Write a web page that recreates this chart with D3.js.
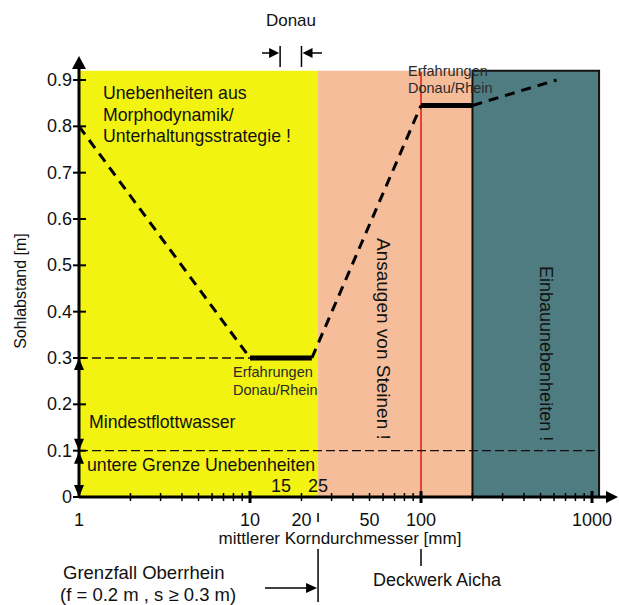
<!DOCTYPE html>
<html>
<head>
<meta charset="utf-8">
<script src="https://cdn.jsdelivr.net/npm/d3@7"></script>
<style>
  body { margin: 0; background: #fff; }
  text { font-family: "Liberation Sans", Arial, sans-serif; fill: #111; }
</style>
</head>
<body>
<svg id="chart" width="619" height="605"></svg>
<script>
// Grain-size zones (mm) with their fill colours
const zoneFrom   = [1, 25, 200];
const zoneTo     = [25, 200, 1100];
const zoneColors = ["#f3f312", "#f6bd9a", "#4f7c81"];
const zoneTop    = 0.92;

// Recommended bed clearance (m) over mean grain diameter (mm)
const dashedTrend = [
  [[1, 0.8], [10, 0.3]],
  [[23, 0.3], [100, 0.845]],
  [[200, 0.845], [620, 0.9]]
];
const experience = [
  [[10, 0.3], [23, 0.3]],
  [[100, 0.845], [200, 0.845]]
];

// Reference levels (m)
const levelMin = 0.3;   // Mindestflottwasser upper limit
const levelLow = 0.1;   // untere Grenze Unebenheiten

// Axis ticks
const yTicks = [0, 0.1, 0.2, 0.3, 0.4, 0.5, 0.6, 0.7, 0.8, 0.9];
const xLabels = [1, 10, 20, 50, 100, 1000];
const xMajor = [10, 100, 1000];
const xMinor = [2,3,4,5,6,7,8,9,20,30,40,50,60,70,80,90,200,300,400,500,600,700,800,900];

// Marked grain sizes
const donauRange = [15, 20];
const grenzfall = 25;
const deckwerk = 100;

const svg = d3.select("#chart");
const x = d3.scaleLog().domain([1, 1000]).range([79, 592]);
const y = d3.scaleLinear().domain([0, 0.9]).range([497, 80]);

// Zones
svg.selectAll("rect.zone").data(zoneFrom).join("rect")
  .attr("class", "zone")
  .attr("x", (d) => x(d))
  .attr("y", y(zoneTop))
  .attr("width", (d, i) => x(zoneTo[i]) - x(d))
  .attr("height", y(0) - y(zoneTop))
  .attr("fill", (d, i) => zoneColors[i]);

// Border of the installation-roughness zone
svg.append("path")
  .attr("d", `M${x(zoneFrom[2])},${y(0)}V${y(zoneTop)}H${x(zoneTo[2])}V${y(0)}`)
  .attr("fill", "none").attr("stroke", "#111").attr("stroke-width", 2);

// Deckwerk Aicha marker line
svg.append("line")
  .attr("x1", x(deckwerk)).attr("x2", x(deckwerk))
  .attr("y1", y(zoneTop) + 1).attr("y2", y(0))
  .attr("stroke", "#e2231a").attr("stroke-width", 1.6);

// Reference level dashed lines
svg.append("line")
  .attr("x1", x(1)).attr("x2", x(10))
  .attr("y1", y(levelMin)).attr("y2", y(levelMin))
  .attr("stroke", "#111").attr("stroke-width", 1.4).attr("stroke-dasharray", "9,4");
svg.append("line")
  .attr("x1", x(1)).attr("x2", x(zoneTo[2]))
  .attr("y1", y(levelLow)).attr("y2", y(levelLow))
  .attr("stroke", "#111").attr("stroke-width", 1.4).attr("stroke-dasharray", "9,4");

const line = d3.line().x((d) => x(d[0])).y((d) => y(d[1]));

svg.selectAll("path.trend").data(dashedTrend).join("path")
  .attr("class", "trend")
  .attr("d", line)
  .attr("fill", "none").attr("stroke", "#000")
  .attr("stroke-width", 3).attr("stroke-dasharray", "10,7");

svg.selectAll("path.exp").data(experience).join("path")
  .attr("class", "exp")
  .attr("d", line)
  .attr("fill", "none").attr("stroke", "#000").attr("stroke-width", 5);

// Arrow head helper: tip at (tx,ty), pointing in direction dir
function head(g, tx, ty, dir, len, half) {
  let pts;
  if (dir === "up")    pts = [[tx, ty], [tx - half, ty + len], [tx + half, ty + len]];
  if (dir === "down")  pts = [[tx, ty], [tx - half, ty - len], [tx + half, ty - len]];
  if (dir === "right") pts = [[tx, ty], [tx - len, ty - half], [tx - len, ty + half]];
  if (dir === "left")  pts = [[tx, ty], [tx + len, ty - half], [tx + len, ty + half]];
  g.append("polygon").attr("points", pts.map((p) => p.join(",")).join(" ")).attr("fill", "#000");
}

// Axes
const ax = svg.append("g");
ax.append("line").attr("x1", x(1)).attr("x2", 608).attr("y1", y(0)).attr("y2", y(0))
  .attr("stroke", "#000").attr("stroke-width", 3);
head(ax, 618, y(0), "right", 12, 6);
ax.append("line").attr("x1", x(1)).attr("x2", x(1)).attr("y1", y(0)).attr("y2", 66)
  .attr("stroke", "#000").attr("stroke-width", 3);
head(ax, x(1), 56, "up", 13, 7);

// Range arrows on the y axis
head(ax, x(1), y(levelMin), "up", 12, 5);
head(ax, x(1), y(levelLow), "down", 12, 5);
head(ax, x(1), y(levelLow) + 1, "up", 12, 5);
head(ax, x(1), y(0), "down", 12, 5);

// y ticks and labels
ax.selectAll("line.yt").data(yTicks).join("line")
  .attr("class", "yt")
  .attr("x1", x(1) - 6).attr("x2", x(1) + 7)
  .attr("y1", (d) => y(d)).attr("y2", (d) => y(d))
  .attr("stroke", "#000").attr("stroke-width", 2);
ax.selectAll("text.yl").data(yTicks).join("text")
  .attr("class", "yl")
  .attr("x", x(1) - 7).attr("y", (d) => y(d) + 6)
  .attr("text-anchor", "end").attr("font-size", 18)
  .text((d) => d === 0 ? "0" : d3.format(".1f")(d));

// x ticks
ax.selectAll("line.xm").data(xMinor).join("line")
  .attr("class", "xm")
  .attr("x1", (d) => x(d)).attr("x2", (d) => x(d))
  .attr("y1", y(0) - 4).attr("y2", y(0) + 4)
  .attr("stroke", "#000").attr("stroke-width", 1.5);
ax.selectAll("line.xM").data(xMajor).join("line")
  .attr("class", "xM")
  .attr("x1", (d) => x(d)).attr("x2", (d) => x(d))
  .attr("y1", y(0) - 6).attr("y2", y(0) + 6)
  .attr("stroke", "#000").attr("stroke-width", 3);
ax.selectAll("text.xl").data(xLabels).join("text")
  .attr("class", "xl")
  .attr("x", (d) => x(d)).attr("y", 526)
  .attr("text-anchor", "middle").attr("font-size", 18)
  .text((d) => d);
ax.append("line").attr("x1", x(grenzfall)).attr("x2", x(grenzfall))
  .attr("y1", 513).attr("y2", 522).attr("stroke", "#000").attr("stroke-width", 1.5);

// Axis titles
svg.append("text").attr("x", 340).attr("y", 544).attr("text-anchor", "middle")
  .attr("font-size", 17).text("mittlerer Korndurchmesser [mm]");
svg.append("text").attr("transform", "translate(26,291) rotate(-90)")
  .attr("text-anchor", "middle").attr("font-size", 16).text("Sohlabstand [m]");

// Donau range marker
const dn = svg.append("g");
dn.append("text").attr("x", 291).attr("y", 26).attr("text-anchor", "middle")
  .attr("font-size", 17).text("Donau");
donauRange.forEach((v) => {
  dn.append("line").attr("x1", x(v)).attr("x2", x(v)).attr("y1", 46).attr("y2", 67)
    .attr("stroke", "#000").attr("stroke-width", 1.5);
});
dn.append("line").attr("x1", 262).attr("x2", x(donauRange[0]) - 6).attr("y1", 53).attr("y2", 53)
  .attr("stroke", "#000").attr("stroke-width", 1.5);
head(dn, x(donauRange[0]) - 1, 53, "right", 10, 5);
dn.append("line").attr("x1", x(donauRange[1]) + 6).attr("x2", 322).attr("y1", 53).attr("y2", 53)
  .attr("stroke", "#000").attr("stroke-width", 1.5);
head(dn, x(donauRange[1]) + 1, 53, "left", 10, 5);

// Zone texts
const t = svg.append("g").attr("font-size", 17.7);
[["Unebenheiten aus", 99], ["Morphodynamik/", 121], ["Unterhaltungsstrategie !", 142]].forEach(([s, yy]) => {
  t.append("text").attr("x", 103).attr("y", yy).text(s);
});
t.append("text").attr("x", 89).attr("y", 428).text("Mindestflottwasser");
t.append("text").attr("x", 87).attr("y", 471).text("untere Grenze Unebenheiten");
t.append("text").attr("x", x(15) + 1).attr("y", 492).attr("text-anchor", "middle").attr("font-size", 18).text("15");
t.append("text").attr("x", x(25)).attr("y", 492).attr("text-anchor", "middle").attr("font-size", 18).text("25");
t.append("text").attr("transform", "translate(377,238) rotate(90)").attr("font-size", 19).text("Ansaugen von Steinen !");
t.append("text").attr("transform", "translate(540,266) rotate(90)").attr("font-size", 18).text("Einbauunebenheiten !");

// Experience labels
const e = svg.append("g").attr("font-size", 14.5);
e.append("text").attr("x", 233).attr("y", 377).style("fill", "#2a2a2a").text("Erfahrungen");
e.append("text").attr("x", 233).attr("y", 395).style("fill", "#2a2a2a").text("Donau/Rhein");
e.append("text").attr("x", 408).attr("y", 76).style("fill", "#2a2a2a").text("Erfahrungen");
e.append("text").attr("x", 408).attr("y", 93).style("fill", "#2a2a2a").text("Donau/Rhein");

// Notes below the axis
const n = svg.append("g");
n.append("text").attr("x", 63).attr("y", 579).attr("font-size", 18.5).text("Grenzfall Oberrhein");
n.append("text").attr("x", 60).attr("y", 601).attr("font-size", 18.5).text("(f = 0.2 m , s \u2265 0.3 m)");
n.append("line").attr("x1", x(grenzfall)).attr("x2", x(grenzfall)).attr("y1", 549).attr("y2", 602)
  .attr("stroke", "#000").attr("stroke-width", 1.5);
n.append("line").attr("x1", 265).attr("x2", x(grenzfall) - 8).attr("y1", 588).attr("y2", 588)
  .attr("stroke", "#000").attr("stroke-width", 1.5);
head(n, x(grenzfall) - 1, 588, "right", 11, 5);
n.append("line").attr("x1", x(deckwerk)).attr("x2", x(deckwerk)).attr("y1", 549).attr("y2", 566)
  .attr("stroke", "#000").attr("stroke-width", 1.5);
n.append("text").attr("x", 437).attr("y", 586).attr("text-anchor", "middle")
  .attr("font-size", 18).text("Deckwerk Aicha");
</script>
</body>
</html>
